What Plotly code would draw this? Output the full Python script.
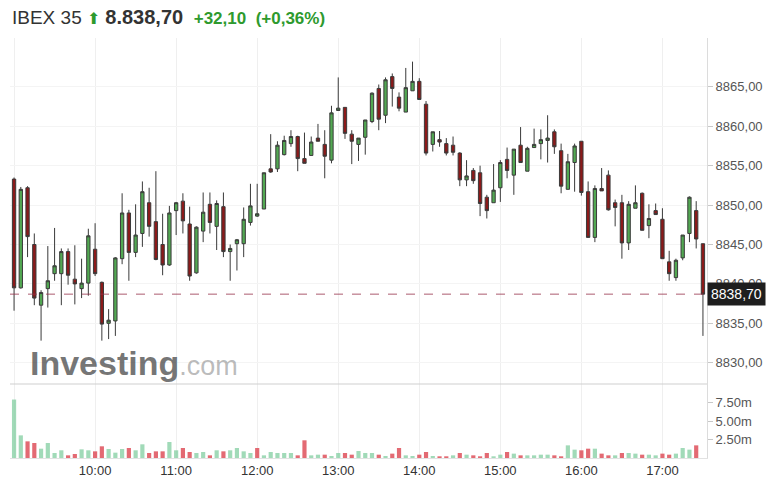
import plotly.graph_objects as go
import pandas as pd

# ---- data (5-minute candles, IBEX 35) ----
times = pd.date_range("2024-01-01 09:00", periods=103, freq="5min")

opens = [8853.3, 8839.5, 8852.2, 8845.0, 8837.3, 8839.4, 8841.3, 8841.3, 8844.1, 8840.6,
         8839.4, 8840.1, 8844.4, 8840.2, 8835.0, 8835.3, 8843.2, 8849.0, 8844.0, 8846.4,
         8850.3, 8847.9, 8845.0, 8842.4, 8849.3, 8850.5, 8847.6, 8841.4, 8846.7, 8850.1,
         8847.3, 8849.8, 8844.1, 8845.1, 8845.1, 8847.8, 8848.6, 8849.5, 8854.6, 8854.6,
         8856.4, 8857.8, 8858.7, 8855.9, 8856.3, 8858.5, 8857.7, 8855.7, 8862.0, 8862.4,
         8859.0, 8857.7, 8858.6, 8860.6, 8864.8, 8861.4, 8866.3, 8863.7, 8861.8, 8864.5,
         8865.7, 8862.8, 8857.7, 8858.3, 8857.8, 8857.6, 8856.6, 8853.2, 8854.4, 8854.1,
         8851.0, 8850.3, 8852.2, 8855.8, 8853.8, 8857.6, 8854.3, 8857.3, 8857.8, 8858.2,
         8859.3, 8856.9, 8852.0, 8855.4, 8858.1, 8851.7, 8845.9, 8852.1, 8853.8, 8850.3,
         8850.3, 8845.2, 8849.6, 8851.5, 8847.4, 8849.3, 8848.2, 8842.8, 8840.8, 8843.3,
         8846.4, 8849.3, 8845.1]
highs = [8853.5, 8852.3, 8852.4, 8846.4, 8839.2, 8844.8, 8847.1, 8844.5, 8844.5, 8844.9,
         8843.2, 8847.0, 8847.7, 8840.3, 8836.8, 8843.4, 8851.5, 8849.4, 8850.1, 8853.0,
         8852.2, 8854.3, 8848.9, 8849.9, 8850.4, 8851.5, 8849.8, 8847.3, 8851.6, 8851.6,
         8850.6, 8851.6, 8845.0, 8845.7, 8849.7, 8852.7, 8852.7, 8854.1, 8859.0, 8858.1,
         8858.8, 8859.5, 8858.8, 8859.2, 8858.7, 8860.3, 8859.5, 8862.6, 8866.2, 8862.4,
         8859.5, 8858.5, 8860.8, 8864.3, 8865.3, 8866.2, 8866.7, 8864.3, 8867.4, 8868.2,
         8866.1, 8863.2, 8859.3, 8859.4, 8858.5, 8858.7, 8856.7, 8855.7, 8854.7, 8855.0,
         8851.3, 8855.2, 8855.7, 8857.3, 8857.1, 8859.9, 8857.4, 8859.7, 8859.6, 8861.4,
         8859.6, 8857.8, 8856.5, 8857.8, 8858.1, 8853.0, 8852.5, 8854.7, 8854.4, 8850.7,
         8851.3, 8850.5, 8852.5, 8851.6, 8850.1, 8850.2, 8849.6, 8844.2, 8843.2, 8846.2,
         8851.1, 8850.5, 8845.1]
lows = [8836.6, 8839.4, 8843.4, 8837.3, 8832.8, 8837.0, 8840.4, 8837.3, 8839.9, 8837.4,
        8838.2, 8838.5, 8841.0, 8832.8, 8833.0, 8833.4, 8842.5, 8840.4, 8843.4, 8844.7,
        8846.0, 8843.0, 8841.1, 8842.3, 8846.2, 8846.4, 8840.4, 8841.3, 8845.3, 8846.4,
        8844.3, 8843.4, 8840.4, 8841.7, 8843.4, 8847.4, 8848.5, 8849.5, 8854.1, 8854.2,
        8856.3, 8857.4, 8854.3, 8855.3, 8856.3, 8858.1, 8853.4, 8855.3, 8862.0, 8858.4,
        8855.2, 8855.6, 8856.4, 8860.4, 8859.5, 8860.4, 8862.5, 8861.9, 8861.8, 8864.5,
        8863.4, 8856.3, 8856.8, 8857.4, 8856.3, 8856.3, 8852.4, 8852.4, 8852.7, 8848.6,
        8848.3, 8850.3, 8850.4, 8853.4, 8851.3, 8855.4, 8854.3, 8857.3, 8855.8, 8855.4,
        8856.5, 8851.5, 8852.0, 8851.7, 8851.2, 8845.9, 8845.3, 8851.8, 8849.3, 8847.3,
        8843.2, 8844.3, 8849.6, 8846.8, 8845.8, 8848.8, 8843.2, 8840.4, 8840.4, 8843.0,
        8845.3, 8844.5, 8833.4]
closes = [8839.5, 8852.0, 8846.0, 8838.2, 8838.9, 8840.4, 8842.3, 8844.1, 8841.1, 8840.0,
          8840.1, 8846.1, 8841.3, 8834.9, 8835.4, 8843.3, 8849.0, 8844.0, 8846.2, 8851.7,
          8847.3, 8843.1, 8842.4, 8849.0, 8850.3, 8848.0, 8841.0, 8847.2, 8849.1, 8847.8,
          8850.2, 8844.1, 8844.5, 8845.6, 8848.2, 8849.9, 8848.9, 8854.1, 8854.2, 8857.6,
          8858.2, 8858.7, 8855.9, 8855.3, 8858.0, 8858.1, 8856.2, 8861.7, 8862.3, 8859.1,
          8858.1, 8858.5, 8860.8, 8864.2, 8860.9, 8865.9, 8864.8, 8862.3, 8864.9, 8865.7,
          8863.4, 8856.6, 8859.3, 8858.0, 8856.6, 8856.7, 8853.2, 8853.7, 8853.1, 8850.2,
          8849.3, 8851.9, 8855.4, 8854.4, 8857.1, 8855.4, 8857.2, 8857.7, 8858.3, 8858.5,
          8857.4, 8852.4, 8855.5, 8857.5, 8851.6, 8845.9, 8852.1, 8851.8, 8849.4, 8849.7,
          8845.2, 8850.1, 8850.3, 8846.8, 8848.3, 8848.8, 8843.2, 8841.3, 8843.0, 8846.2,
          8851.0, 8845.7, 8838.7]
volumes_m = [7.9, 3.06, 2.25, 2.03, 1.26, 2.03, 0.68, 1.04, 0.36, 0.54,
             1.17, 1.04, 0.9, 1.58, 1.22, 0.72, 1.22, 1.35, 1.04, 1.85,
             0.68, 0.9, 0.9, 2.16, 1.04, 1.35, 0.81, 0.68, 0.81, 0.36,
             1.04, 0.9, 1.04, 1.35, 0.9, 0.68, 1.35, 0.36, 0.81, 0.68,
             0.68, 0.68, 0.36, 2.39, 0.36, 0.45, 0.45, 0.27, 0.68, 0.68,
             0.45, 0.95, 0.68, 0.68, 0.45, 0.27, 0.59, 1.35, 0.36, 0.27,
             0.45, 0.81, 0.27, 0.23, 0.23, 0.36, 0.68, 0.45, 0.36, 0.23,
             0.68, 0.23, 0.45, 0.81, 0.59, 0.36, 0.36, 0.36, 0.45, 0.45,
             0.36, 0.23, 1.71, 1.13, 1.04, 1.26, 1.26, 0.59, 0.36, 0.36,
             0.68, 0.68, 0.59, 0.45, 0.45, 0.36, 0.59, 0.45, 0.59, 1.35,
             1.13, 1.71, 0.0]
prev_close = 8806.6
last_price = 8838.70
price_ticks = [8830, 8835, 8840, 8845, 8850, 8855, 8860, 8865]
volume_ticks = [2.5, 5.0, 7.5]
volume_tick_labels = ["2.50m", "5.00m", "7.50m"]

# ---- styling ----
GREEN_BODY = "#52a852"
RED_BODY = "#8b1a1a"
VOL_GREEN = "rgba(130,205,160,0.75)"
VOL_RED = "rgba(222,80,90,0.85)"
FONT = "Arial, Liberation Sans, sans-serif"

prev = [prev_close] + closes[:-1]
vol_colors = [VOL_GREEN if c >= p else VOL_RED for c, p in zip(closes, prev)]

fig = go.Figure()
fig.add_trace(go.Candlestick(
    x=times, open=opens, high=highs, low=lows, close=closes,
    xaxis="x", yaxis="y",
    increasing=dict(fillcolor=GREEN_BODY, line=dict(color="#3a3a3a", width=1)),
    decreasing=dict(fillcolor=RED_BODY, line=dict(color="#3a3a3a", width=1)),
    whiskerwidth=0, showlegend=False, hoverinfo="skip",
))
fig.add_trace(go.Bar(
    x=times, y=volumes_m, marker=dict(color=vol_colors, line=dict(width=0)),
    xaxis="x", yaxis="y2", showlegend=False, hoverinfo="skip",
))

PLOT_H = 420
split = 74 / PLOT_H

fig.update_layout(
    width=780, height=493,
    margin=dict(l=10, r=73, t=38, b=35),
    paper_bgcolor="white", plot_bgcolor="white",
    font=dict(family=FONT, color="#333"),
    bargap=0.38,
    xaxis=dict(
        domain=[0, 1], anchor="y2",
        type="date",
        range=["2024-01-01 08:57:00", "2024-01-01 17:33:00"],
        tick0="2024-01-01 10:00", dtick=3600000, tickformat="%H:%M",
        showgrid=True, gridcolor="#efefef", gridwidth=1,
        showline=True, linecolor="#e2e2e2",
        ticks="", tickfont=dict(size=13, color="#333"),
        rangeslider=dict(visible=False),
        zeroline=False,
    ),
    yaxis=dict(
        domain=[split, 1], anchor="x", side="right",
        range=[8827.3, 8871.2],
        tickvals=price_ticks,
        ticktext=[f"{v:.2f}".replace(".", ",") for v in price_ticks],
        tickfont=dict(size=13, color="#555"),
        ticks="outside", ticklen=5, tickcolor="#c8c8c8",
        showgrid=True, gridcolor="#f4f4f4",
        showline=True, linecolor="#dcdcdc",
        zeroline=False,
    ),
    yaxis2=dict(
        domain=[0, split], anchor="x", side="right",
        range=[0, 10],
        tickvals=volume_ticks, ticktext=volume_tick_labels,
        tickfont=dict(size=13, color="#555"),
        ticks="outside", ticklen=5, tickcolor="#c8c8c8",
        showgrid=False,
        showline=True, linecolor="#dcdcdc",
        zeroline=False,
    ),
)

# last price dashed line
fig.add_shape(type="line", xref="paper", x0=0, x1=1, yref="y", y0=last_price, y1=last_price,
              line=dict(color="rgba(150,50,75,0.8)", width=1, dash="dash"))
# pane separator
fig.add_shape(type="line", xref="paper", x0=0, x1=1, yref="paper", y0=split, y1=split,
              line=dict(color="#cfcfcf", width=1))

# last price label
fig.add_annotation(xref="paper", x=1, xanchor="left", yref="y", y=last_price, yanchor="middle",
                   text=f"{last_price:.2f}".replace(".", ","), showarrow=False,
                   bgcolor="#1e1e1e", borderpad=3,
                   font=dict(size=14, color="white", family=FONT))

# watermark
fig.add_annotation(xref="paper", x=18 / 697, xanchor="left", yref="y", y=8830, yanchor="middle",
                   text="<b>Investing</b><span style='color:rgba(130,130,130,0.7);font-size:27px'>.com</span>",
                   showarrow=False,
                   font=dict(size=34, color="rgba(80,80,80,0.78)", family=FONT))

# header
header = ("IBEX 35 <span style='color:#2e9a2e;font-size:16px'>⬆</span> "
          "<span style='font-size:20px'><b>8.838,70</b></span>  "
          "<span style='color:#2e9a2e;font-size:17px'><b>+32,10</b>  <b>(+0,36%)</b></span>")
fig.add_annotation(xref="paper", x=0, xanchor="left", yref="paper", y=1 + 21 / PLOT_H,
                   yanchor="middle", text=header, showarrow=False,
                   font=dict(size=19, color="#333", family=FONT))

# remove the default 8px page margin so the figure sits at the window's top-left corner
fig.write_html("out.html", config={"displayModeBar": False},
               post_script="document.body.style.margin='0';")
